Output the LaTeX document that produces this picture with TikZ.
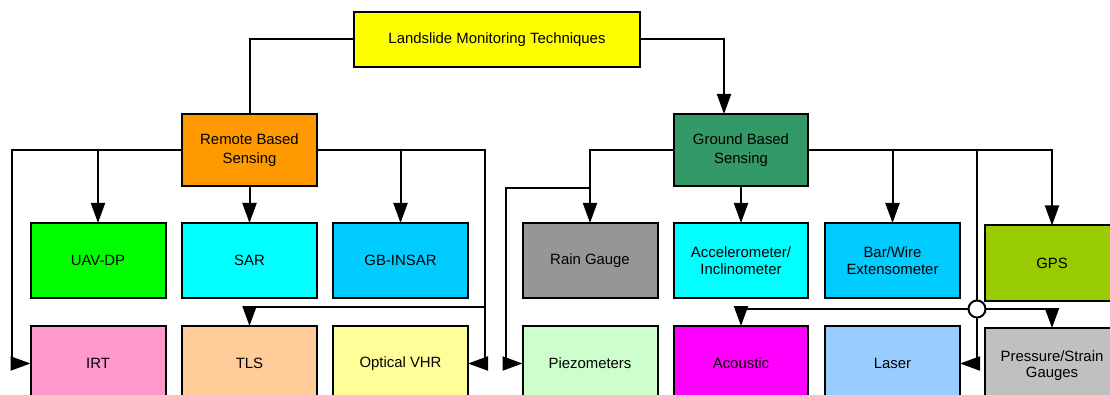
\documentclass[tikz,border=0pt]{standalone}
\usepackage{fontspec}
\setmainfont{Liberation Sans}
\usetikzlibrary{arrows.meta}

% box fills
\definecolor{cTop}{HTML}{FFFF00}
\definecolor{cRemote}{HTML}{FF9900}
\definecolor{cGround}{HTML}{339966}
\definecolor{cUav}{HTML}{00FF00}
\definecolor{cSar}{HTML}{00FFFF}
\definecolor{cGbin}{HTML}{00CCFF}
\definecolor{cIrt}{HTML}{FF99CC}
\definecolor{cTls}{HTML}{FFCC99}
\definecolor{cOpt}{HTML}{FFFF99}
\definecolor{cRain}{HTML}{969696}
\definecolor{cGps}{HTML}{99CC00}
\definecolor{cPiezo}{HTML}{CCFFCC}
\definecolor{cAcou}{HTML}{FF00FF}
\definecolor{cLaser}{HTML}{99CCFF}
\definecolor{cPress}{HTML}{C0C0C0}

\tikzset{
  techbox/.style={draw=black, line width=2pt, rectangle, inner sep=0pt, outer sep=0pt,
    minimum width=135pt, minimum height=75pt, align=center,
    font=\fontsize{14.9}{16.5}\selectfont},
  headbox/.style={techbox, minimum height=72pt},
  link/.style={line width=2pt, line join=miter},
  arr/.style={link, -{Triangle[length=20pt,width=14pt]}},
  junction/.style={draw=black, line width=2pt, circle, fill=white, minimum size=17pt, inner sep=0pt, outer sep=0pt}
}

\begin{document}
\begin{tikzpicture}[x=1pt,y=-1pt]
\useasboundingbox (0,0) rectangle (1110,395);
\clip (0,0) rectangle (1110,395);

% root
\node[techbox, fill=cTop, minimum width=286pt, minimum height=55pt] (root) at (497,39.5) {Landslide Monitoring Techniques};

% two families
\node[headbox, fill=cRemote] (remote) at (249.5,150) {Remote Based\\[3pt]Sensing};
\node[headbox, fill=cGround, minimum width=134pt] (ground) at (741,150) {Ground Based\\[3pt]Sensing};

% remote techniques
\node[techbox, fill=cUav]  (uav)  at (98,260.5)    {UAV-DP};
\node[techbox, fill=cSar]  (sar)  at (249.5,260.5) {SAR};
\node[techbox, fill=cGbin] (gbin) at (400.5,260.5) {GB-INSAR};
\node[techbox, fill=cIrt]  (irt)  at (98,363.5)    {IRT};
\node[techbox, fill=cTls]  (tls)  at (249.5,363.5) {TLS};
\node[techbox, fill=cOpt]  (opt)  at (400.5,363.5) {Optical VHR};

% ground techniques
\node[techbox, fill=cRain]  (rain)  at (590,260.5)   {Rain Gauge};
\node[techbox, fill=cSar, minimum width=134pt] (accel) at (741,260.5) {Accelerometer/\\Inclinometer};
\node[techbox, fill=cGbin]  (bar)   at (892.5,260.5) {Bar/Wire\\Extensometer};
\node[techbox, fill=cGps]   (gps)   at (1052,263)    {GPS};
\node[techbox, fill=cPiezo] (piezo) at (590,363.5)   {Piezometers};
\node[techbox, fill=cAcou, minimum width=134pt] (acou) at (741,363.5) {Acoustic};
\node[techbox, fill=cLaser] (laser) at (892.5,363.5) {Laser};
\node[techbox, fill=cPress] (press) at (1052,365.5)  {Pressure/Strain\\Gauges};

% routing points
\coordinate (gin) at ([xshift=-17pt]ground.north);
\coordinate (rl) at (12,150);
\coordinate (rr) at (485,150);
\coordinate (rj) at (485,307);
\coordinate (gj) at (590,188);
\coordinate (gl) at (506,188);
\coordinate (gv) at (977,150);
\node[junction] (jn) at (977,309) {};

% root to families
\draw[link] (root.west) -| (remote.north);
\draw[arr]  (root.east) -| (gin);

% remote based sensing
\draw[arr]  (remote.west) -| (uav.north);
\draw[arr]  (remote.west) -- (rl) |- (irt.west);
\draw[arr]  (remote.south) -- (sar.north);
\draw[arr]  (remote.east) -| (gbin.north);
\draw[arr]  (remote.east) -- (rr) |- (opt.east);
\draw[arr]  (rj) -| (tls.north);

% ground based sensing
\draw[arr]  (ground.west) -| (rain.north);
\draw[arr]  (gj) -- (gl) |- (piezo.west);
\draw[arr]  (ground.south) -- (accel.north);
\draw[arr]  (ground.east) -| (bar.north);
\draw[arr]  (ground.east) -| (gps.north);
\draw[link] (gv) -- (jn.north);
\draw[arr]  (jn.south) |- (laser.east);
\draw[arr]  (jn.west) -| (acou.north);
\draw[arr]  (jn.east) -| (press.north);
\end{tikzpicture}
\end{document}
